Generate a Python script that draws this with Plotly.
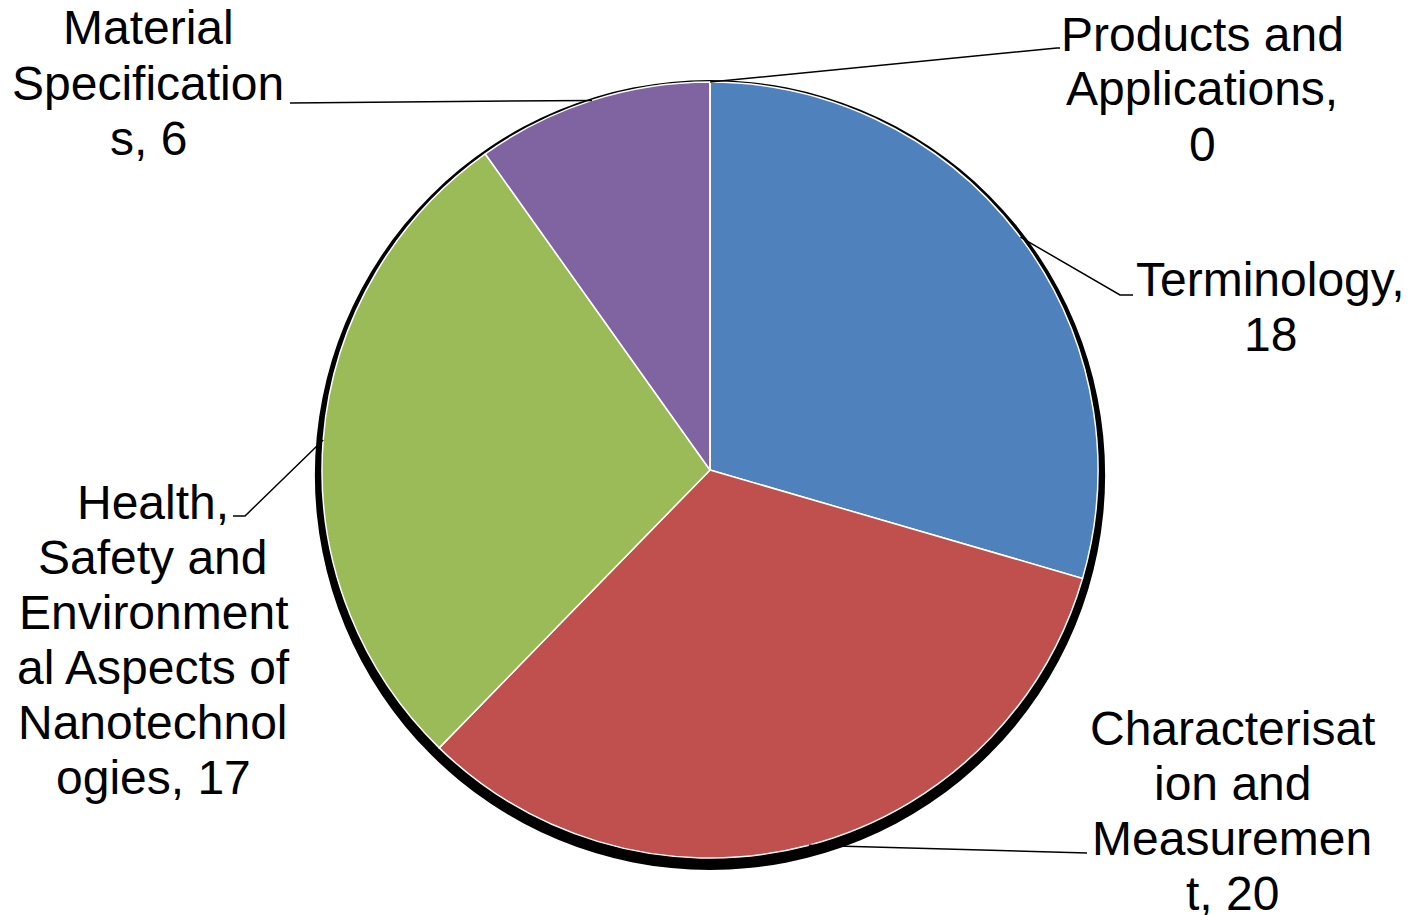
import math
import plotly.graph_objects as go

# ---- data ----
categories = ["Terminology", "Characterisation and Measurement",
              "Health, Safety and Environmental Aspects of Nanotechnologies",
              "Material Specifications", "Products and Applications"]
values = [18, 20, 17, 6, 0]
colors = ["#4F81BD", "#C0504D", "#9BBB59", "#8064A2", "#4BACC6"]
# wrapped label text as shown in the chart
label_lines = [
    ["Terminology,", "18"],
    ["Characterisat", "ion and", "Measuremen", "t, 20"],
    ["Health,", "Safety and", "Environment", "al Aspects of", "Nanotechnol", "ogies, 17"],
    ["Material", "Specification", "s, 6"],
    ["Products and", "Applications,", "0"],
]

# ---- layout geometry (pixels) ----
W, H = 1409, 915
CX, CY, R = 710, 470, 388          # pie
SCX, SCY, SR = 710, 475, 395       # shadow disc
LINE_H = 55
FONT = dict(family="Liberation Sans, Arial, sans-serif", size=48, color="black")
# label position: (center x, y of first line), leader line elbow points
label_pos = [(1270, 279), (1232, 728), (153, 502), (148, 28), (1202, 34)]
leader_elbows = [
    [(1120, 295), (1133, 295)],
    [(1087, 853)],
    [(245, 516), (233, 516)],
    [(290, 103)],
    [(1057, 48), (1060, 48)],
]


def px(x):
    return x / W


def py(y):
    return 1 - y / H


fig = go.Figure()
# shadow
fig.add_trace(go.Pie(
    values=[1], marker=dict(colors=["black"]), textinfo="none", hoverinfo="skip",
    showlegend=False, sort=False,
    domain=dict(x=[px(SCX - SR), px(SCX + SR)], y=[py(SCY + SR), py(SCY - SR)]),
))
fig.add_trace(go.Pie(
    labels=categories, values=values, sort=False, direction="clockwise", rotation=0,
    marker=dict(colors=colors, line=dict(color="white", width=1.5)),
    textinfo="none", showlegend=False,
    domain=dict(x=[px(CX - R), px(CX + R)], y=[py(CY + R), py(CY - R)]),
))

total = sum(values)
cum = 0
annotations = []
shapes = []
for i, v in enumerate(values):
    mid = (cum + v / 2) / total * 2 * math.pi
    cum += v
    ax = CX + R * math.sin(mid)
    ay = CY - R * math.cos(mid)
    pts = [(ax, ay)] + leader_elbows[i]
    path = "M " + " L ".join(f"{px(x):.5f},{py(y):.5f}" for x, y in pts)
    shapes.append(dict(type="path", xref="paper", yref="paper", path=path,
                       line=dict(color="black", width=1.5)))
    lx, ly = label_pos[i]
    for k, line in enumerate(label_lines[i]):
        annotations.append(dict(
            text=line, x=px(lx), y=py(ly + k * LINE_H), xref="paper", yref="paper",
            xanchor="center", yanchor="middle", showarrow=False, font=FONT))

fig.update_layout(
    width=W, height=H, autosize=False,
    margin=dict(l=0, r=0, t=0, b=0),
    paper_bgcolor="white", plot_bgcolor="white",
    annotations=annotations, shapes=shapes,
)
fig.write_html("out.html")
